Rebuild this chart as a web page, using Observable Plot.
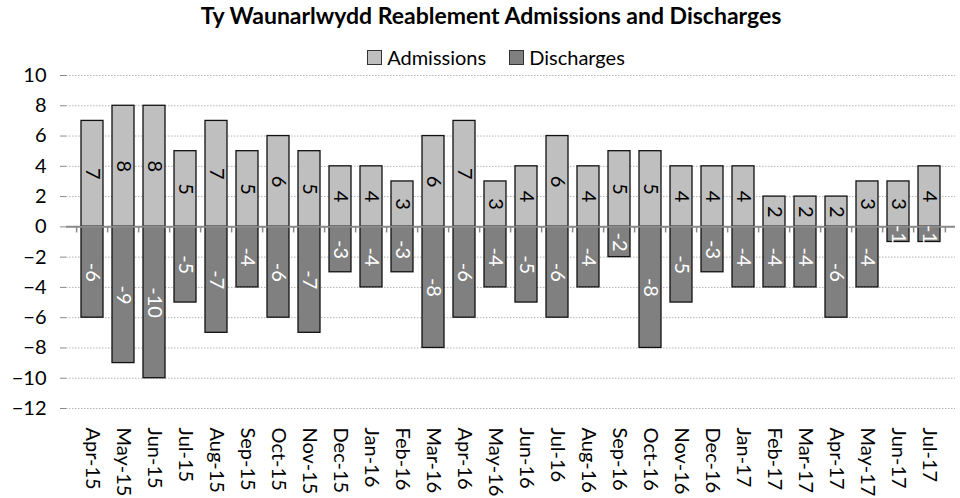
<!DOCTYPE html>
<html>
<head>
<meta charset="utf-8">
<script src="https://cdn.jsdelivr.net/npm/d3@7"></script>
<script src="https://cdn.jsdelivr.net/npm/@observablehq/plot@0.6"></script>
<style>
  html, body { margin: 0; padding: 0; background: #fff; }
  body { width: 960px; height: 498px; position: relative; overflow: hidden; font-family: Lato, "Open Sans", sans-serif; }
  #title { position: absolute; left: 0; width: 982px; top: 0px; line-height: 30px; text-align: center; font-weight: bold; font-size: 23px; color: #000; }
  #legend { position: absolute; left: 0; width: 992px; top: 44px; line-height: 26px; display: flex; justify-content: center; gap: 23px; font-size: 20px; color: #000; }
  .item { display: flex; align-items: center; gap: 5px; }
  .sw { width: 15px; height: 15px; border: 1.3px solid #333; box-sizing: border-box; }
  #chart { position: absolute; left: 0; top: 0; }
</style>
</head>
<body>
<div id="chart"></div>
<div id="title">Ty Waunarlwydd Reablement Admissions and Discharges</div>
<div id="legend"></div>
<script>
const months = ["Apr-15","May-15","Jun-15","Jul-15","Aug-15","Sep-15","Oct-15","Nov-15","Dec-15","Jan-16","Feb-16","Mar-16","Apr-16","May-16","Jun-16","Jul-16","Aug-16","Sep-16","Oct-16","Nov-16","Dec-16","Jan-17","Feb-17","Mar-17","Apr-17","May-17","Jun-17","Jul-17"];
const admissions = [7,8,8,5,7,5,6,5,4,4,3,6,7,3,4,6,4,5,5,4,4,4,2,2,2,3,3,4];
const discharges = [-6,-9,-10,-5,-7,-4,-6,-7,-3,-4,-3,-8,-6,-4,-5,-6,-4,-2,-8,-5,-3,-4,-4,-4,-6,-4,-1,-1];
const yTicks = [-12,-10,-8,-6,-4,-2,0,2,4,6,8,10];
const seriesNames = ["Admissions","Discharges"];
const seriesColors = ["#bfbfbf","#808080"];

const rowsA = months.map((m, i) => ({month: m, value: admissions[i]}));
const rowsD = months.map((m, i) => ({month: m, value: discharges[i]}));
const boundaries = months.map((m, i) => ({month: m, last: false})).concat([{month: months[months.length-1], last: true}]);

const W = 960, mL = 66, mR = 5;
const step = (W - mL - mR) / months.length;

const chart = Plot.plot({
  width: W,
  height: 498,
  marginTop: 75,
  marginBottom: 90,
  marginLeft: mL,
  marginRight: mR,
  style: {fontFamily: "Lato, 'Open Sans', sans-serif", background: "white", color: "#000"},
  x: {domain: months, padding: 0.3, align: 0.5},
  y: {domain: [-12, 10]},
  marks: [
    Plot.gridY(yTicks, {stroke: "#b4b4b4", strokeOpacity: 1, strokeDasharray: "1.5,1.5", strokeWidth: 1}),
    Plot.barY(rowsA, {x: "month", y: "value", fill: seriesColors[0], stroke: "#111", strokeWidth: 1.3}),
    Plot.barY(rowsD, {x: "month", y: "value", fill: seriesColors[1], stroke: "#111", strokeWidth: 1.3}),
    Plot.ruleY([0], {stroke: "#8a8a8a", strokeWidth: 2}),
    Plot.ruleX(boundaries.filter(d => !d.last), {x: "month", y1: 0, y2: -0.4, dx: -step / 2, stroke: "#8a8a8a", strokeWidth: 1.5}),
    Plot.ruleX(boundaries.filter(d => d.last), {x: "month", y1: 0, y2: -0.4, dx: step / 2, stroke: "#8a8a8a", strokeWidth: 1.5}),
    Plot.ruleX([0], {x: () => null, y1: -12, y2: 10, frameAnchor: "left", stroke: "#8a8a8a", strokeWidth: 1.5}),
    Plot.axisY(yTicks, {tickSize: 6, tickPadding: 14, fontSize: 20, stroke: "#8a8a8a", fill: "#000", label: null}),
    Plot.axisX({tickSize: 0, tickRotate: 90, tickPadding: 19, fontSize: 20, fill: "#000", label: null}),
    Plot.text(rowsA, {x: "month", y: d => d.value / 2, text: d => String(d.value), rotate: 90, fill: "#000", fontSize: 20}),
    Plot.text(rowsD, {x: "month", y: d => d.value / 2, text: d => String(d.value), rotate: 90, fill: "#fff", fontSize: 20})
  ]
});
document.getElementById("chart").appendChild(chart);

const legend = document.getElementById("legend");
seriesNames.forEach((n, i) => {
  const it = document.createElement("div");
  it.className = "item";
  const sw = document.createElement("div");
  sw.className = "sw";
  sw.style.background = seriesColors[i];
  const t = document.createElement("span");
  t.textContent = n;
  it.appendChild(sw); it.appendChild(t);
  legend.appendChild(it);
});
</script>
</body>
</html>
